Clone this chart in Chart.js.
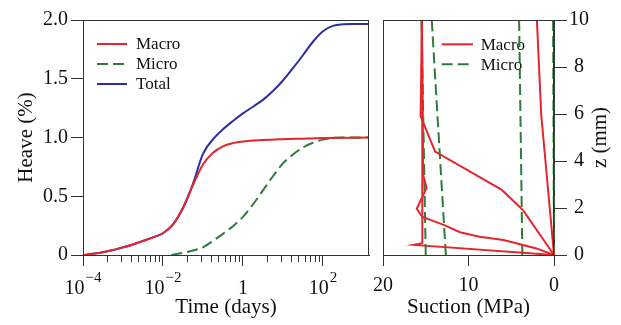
<!DOCTYPE html>
<html><head><meta charset="utf-8">
<script src="https://cdn.jsdelivr.net/npm/chart.js@4.4.1/dist/chart.umd.min.js"></script>
<style>
html,body{margin:0;padding:0;background:#fff;}
#wrap{position:relative;width:621px;height:325px;overflow:hidden;background:#fff;}
canvas{position:absolute;top:0;}
#c1{left:0;} #c2{left:360px;}
</style></head><body>
<div id="wrap"><canvas id="c1" width="380" height="325"></canvas><canvas id="c2" width="261" height="325"></canvas></div>
<script>
const FONT = "'Liberation Serif', 'Times New Roman', serif";

// ---------- Left panel: heave vs time ----------
const macroTime  = [1e-4, 1.78e-4, 3.16e-4, 5.62e-4, 1e-3, 1.78e-3, 3.16e-3, 5.62e-3, 1e-2, 1.78e-2, 3.16e-2, 4.27e-2, 5.62e-2, 0.1, 0.178, 0.316, 0.562, 1, 3.16, 10, 31.6, 100, 1420];
const macroHeave = [0, 0.010, 0.023, 0.042, 0.065, 0.090, 0.120, 0.150, 0.185, 0.260, 0.400, 0.500, 0.595, 0.770, 0.870, 0.925, 0.952, 0.966, 0.978, 0.985, 0.990, 0.995, 1.0];

const microTime  = [0.0162, 0.0316, 0.0562, 0.1, 0.178, 0.316, 0.562, 1, 1.78, 3.16, 5.62, 10, 17.8, 31.6, 56.2, 100, 178, 316, 1420];
const microHeave = [0, 0.018, 0.038, 0.065, 0.120, 0.180, 0.245, 0.325, 0.430, 0.550, 0.670, 0.780, 0.855, 0.915, 0.955, 0.982, 0.997, 1.0, 1.0];

const totalTime  = [1e-4, 1.78e-4, 3.16e-4, 5.62e-4, 1e-3, 1.78e-3, 3.16e-3, 5.62e-3, 1e-2, 1.78e-2, 3.16e-2, 4.27e-2, 5.62e-2, 0.1, 0.178, 0.316, 0.562, 1, 1.78, 3.16, 5.62, 10, 17.8, 31.6, 56.2, 100, 178, 316, 562, 1420];
const totalHeave = [0, 0.010, 0.023, 0.042, 0.065, 0.090, 0.120, 0.150, 0.185, 0.260, 0.400, 0.500, 0.605, 0.860, 0.985, 1.070, 1.140, 1.205, 1.262, 1.320, 1.395, 1.485, 1.590, 1.700, 1.815, 1.905, 1.950, 1.963, 1.966, 1.966];

const timeMajorTicks = [1e-4, 1e-2, 1, 100];
const timeTickBase   = ['10', '10', '1', '10'];
const timeTickExp    = ['\u22124', '\u22122', '', '2'];
const timeMinorTicks = [4e-4, 9e-4, 1.6e-3, 2.5e-3, 3.6e-3, 4.9e-3, 6.4e-3, 8.1e-3,
                        0.04, 0.09, 0.16, 0.25, 0.36, 0.49, 0.64, 0.81,
                        4, 9, 16, 25, 36, 49, 64, 81];
const heaveTicks      = [0, 0.5, 1.0, 1.5, 2.0];
const heaveTickLabels = ['0', '0.5', '1.0', '1.5', '2.0'];
const leftLegendLabels = ['Macro', 'Micro', 'Total'];

// ---------- Right panel: suction profiles ----------
const macroS1 = [0, 16.4, 15.4, 15.4, 15.45];
const macroZ1 = [0, 0.43, 0.5, 6, 10];
const macroS2 = [0, 2.05, 5.9, 8.7, 11.0, 12.9, 15.4, 16.05, 14.9, 15.3, 15.45];
const macroZ2 = [0, 0.28, 0.64, 0.78, 0.97, 1.28, 1.62, 1.97, 2.85, 3.4, 10];
const macroS3 = [0, 3.6, 6.1, 13.9, 15.6, 15.45];
const macroZ3 = [0, 1.9, 2.77, 4.4, 5.9, 10];
const macroS4 = [0, 1.5, 2.0];
const macroZ4 = [0, 6, 10];

const microS1 = [0, 0.1];   const microZ1 = [0, 10];
const microS2 = [3.7, 4.08]; const microZ2 = [0, 10];
const microS3 = [12.65, 14.3]; const microZ3 = [0, 10];
const microS4 = [15.0, 15.5]; const microZ4 = [0, 10];

const suctionTicks = [0, 10, 20];
const zTicks = [0, 2, 4, 6, 8, 10];
const rightLegendLabels = ['Macro', 'Micro'];

const RED = '#e3262b', GREEN = '#2e7b3c', BLUE = '#2c2f9c', AXIS = '#333333', TXT = '#111';
const DASH = [11, 5];

const pts = (xs, ys) => xs.map((x, i) => ({x: x, y: ys[i]}));

const framePlugin = {
  id: 'frame',
  afterDatasetsDraw(chart) {
    const a = chart.chartArea, c = chart.ctx;
    c.save();
    c.strokeStyle = AXIS; c.lineWidth = 1;
    c.strokeRect(Math.round(a.left) + 0.5, Math.round(a.top) + 0.5,
                 Math.round(a.right) - Math.round(a.left) - 1, Math.round(a.bottom) - Math.round(a.top));
    c.restore();
  }
};

function legendPlugin(labels, dsIndex, x0, x1, xt, y0, dy) {
  return {
    id: 'customLegend',
    beforeDatasetsDraw(chart) {
      const c = chart.ctx;
      c.save();
      labels.forEach((lab, i) => {
        const ds = chart.data.datasets[dsIndex[i]];
        const y = y0 + i * dy;
        c.strokeStyle = ds.borderColor; c.lineWidth = ds.borderWidth;
        c.setLineDash(ds.borderDash || []);
        c.beginPath(); c.moveTo(x0, y); c.lineTo(x1, y); c.stroke();
        c.setLineDash([]);
        c.fillStyle = TXT; c.font = '17px ' + FONT; c.textBaseline = 'middle'; c.textAlign = 'left';
        c.fillText(lab, xt, y + 1);
      });
      c.restore();
    }
  };
}

const logLabelPlugin = {
  id: 'logLabels',
  afterDraw(chart) {
    const sc = chart.scales.x, c = chart.ctx;
    c.save();
    c.fillStyle = TXT; c.textBaseline = 'alphabetic'; c.textAlign = 'left';
    timeMajorTicks.forEach((v, i) => {
      const px = sc.getPixelForValue(v);
      c.font = '20px ' + FONT;
      const wb = c.measureText(timeTickBase[i]).width;
      c.font = '15px ' + FONT;
      const we = timeTickExp[i] ? c.measureText(timeTickExp[i]).width + 1 : 0;
      const x0 = px - (wb + we) / 2;
      c.font = '20px ' + FONT;
      c.fillText(timeTickBase[i], x0, 293.5);
      if (timeTickExp[i]) { c.font = '15px ' + FONT; c.fillText(timeTickExp[i], x0 + wb + 1, 282); }
    });
    c.restore();
  }
};

new Chart(document.getElementById('c1'), {
  type: 'line',
  data: {
    datasets: [
      {label: 'Macro', data: pts(macroTime, macroHeave), borderColor: RED, borderWidth: 2, pointRadius: 0, cubicInterpolationMode: 'monotone'},
      {label: 'Micro', data: pts(microTime, microHeave), borderColor: GREEN, borderWidth: 2, borderDash: DASH, pointRadius: 0, cubicInterpolationMode: 'monotone'},
      {label: 'Total', data: pts(totalTime, totalHeave), borderColor: BLUE, borderWidth: 2, pointRadius: 0, cubicInterpolationMode: 'monotone'}
    ]
  },
  options: {
    responsive: false, animation: false, clip: false,
    layout: {padding: {left: 0, top: 20, right: 11, bottom: 0}},
    plugins: {legend: {display: false}, tooltip: {enabled: false}},
    scales: {
      x: {
        type: 'logarithmic', min: 1e-4, max: 1420,
        afterBuildTicks: s => {
          const t = timeMajorTicks.map(v => ({value: v, major: true}))
            .concat(timeMinorTicks.map(v => ({value: v, major: false})));
          t.sort((a, b) => a.value - b.value);
          s.ticks = t;
        },
        afterFit: s => { s.height = 70; },
        ticks: {display: false, autoSkip: false},
        grid: {drawOnChartArea: false, drawTicks: true, tickLength: 11, tickColor: AXIS, tickWidth: 1,
               tickBorderDash: ctx => (ctx.tick && ctx.tick.major) ? [] : [6, 40]},
        border: {display: true, color: AXIS, width: 1},
        title: {display: true, text: 'Time (days)', color: TXT, font: {family: FONT, size: 21}, padding: {top: 0, bottom: 5}}
      },
      y: {
        min: 0, max: 2,
        afterBuildTicks: s => { s.ticks = heaveTicks.map(v => ({value: v})); },
        afterFit: s => { s.width = 83; },
        ticks: {color: TXT, font: {family: FONT, size: 20}, padding: 3,
                callback: v => { const i = heaveTicks.indexOf(v); return i >= 0 ? heaveTickLabels[i] : ''; }},
        grid: {drawOnChartArea: false, tickLength: 12, tickColor: AXIS},
        border: {display: true, color: AXIS, width: 1},
        title: {display: true, text: 'Heave (%)', color: TXT, font: {family: FONT, size: 21}, padding: {top: 14}}
      }
    }
  },
  plugins: [framePlugin, legendPlugin(leftLegendLabels, [0, 1, 2], 97, 127, 136, 44, 20), logLabelPlugin]
});

const rightTitlePlugin = {
  id: 'rightTitle',
  afterDraw(chart) {
    const c = chart.ctx;
    c.save();
    c.translate(600 - 360, 137.5);
    c.rotate(-Math.PI / 2);
    c.fillStyle = TXT; c.font = '21px ' + FONT; c.textAlign = 'center'; c.textBaseline = 'middle';
    c.fillText('z (mm)', 0, 0);
    c.restore();
  }
};

const macroStyle = {borderColor: RED, borderWidth: 2, pointRadius: 0, tension: 0};
const microStyle = {borderColor: GREEN, borderWidth: 2, borderDash: DASH, pointRadius: 0, tension: 0};

new Chart(document.getElementById('c2'), {
  type: 'line',
  data: {
    datasets: [
      Object.assign({label: 'Macro', data: pts(macroS1, macroZ1)}, macroStyle),
      Object.assign({label: 'Macro', data: pts(macroS2, macroZ2)}, macroStyle),
      Object.assign({label: 'Macro', data: pts(macroS3, macroZ3)}, macroStyle),
      Object.assign({label: 'Macro', data: pts(macroS4, macroZ4)}, macroStyle),
      Object.assign({label: 'Micro', data: pts(microS1, microZ1)}, microStyle),
      Object.assign({label: 'Micro', data: pts(microS2, microZ2)}, microStyle),
      Object.assign({label: 'Micro', data: pts(microS3, microZ3)}, microStyle),
      Object.assign({label: 'Micro', data: pts(microS4, microZ4)}, microStyle)
    ]
  },
  options: {
    responsive: false, animation: false, clip: false,
    layout: {padding: {left: 23, top: 20, right: 0, bottom: 0}},
    plugins: {legend: {display: false}, tooltip: {enabled: false}},
    scales: {
      x: {
        type: 'linear', min: 0, max: 20, reverse: true,
        afterBuildTicks: s => { s.ticks = suctionTicks.map(v => ({value: v})); },
        afterFit: s => { s.height = 70; },
        ticks: {color: TXT, font: {family: FONT, size: 20}, padding: 8},
        grid: {drawOnChartArea: false, tickLength: 11, tickColor: AXIS},
        border: {display: true, color: AXIS, width: 1},
        title: {display: true, text: 'Suction (MPa)', color: TXT, font: {family: FONT, size: 21}, padding: {top: 0, bottom: 5}}
      },
      y: {
        position: 'right', min: 0, max: 10,
        afterBuildTicks: s => { s.ticks = zTicks.map(v => ({value: v})); },
        afterFit: s => { s.width = 67; },
        ticks: {color: TXT, font: {family: FONT, size: 20}, padding: 2, crossAlign: 'center'},
        grid: {drawOnChartArea: false, tickLength: 13, tickColor: AXIS},
        border: {display: true, color: AXIS, width: 1}
      }
    }
  },
  plugins: [framePlugin, legendPlugin(rightLegendLabels, [0, 4], 81.7, 113, 120.7, 44.3, 20), rightTitlePlugin]
});
</script>
</body></html>
